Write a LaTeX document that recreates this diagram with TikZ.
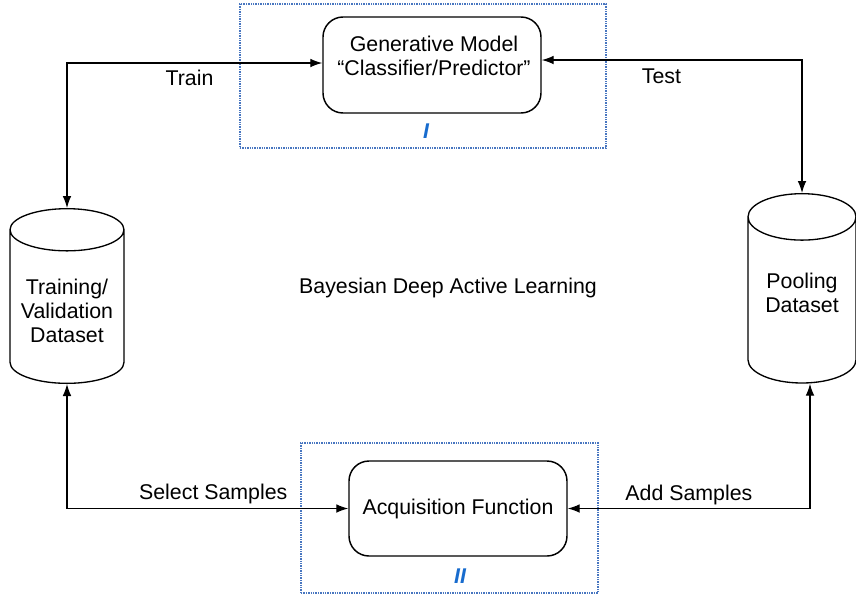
\documentclass[tikz,border=0pt]{standalone}
\usepackage{fontspec}
\setmainfont{Liberation Sans}
\usetikzlibrary{arrows.meta,shapes.geometric}
\definecolor{framecol}{RGB}{72,118,192}
\definecolor{tagcol}{RGB}{24,108,206}

\tikzset{
  txt/.style={font=\fontsize{16}{18}\selectfont, align=center, inner sep=1pt},
  box/.style={draw, line width=1.1pt, rounded corners=15pt, minimum width=163.5pt, minimum height=72pt},
  store/.style={draw, line width=1pt, cylinder, shape border rotate=90, inner ysep=0pt},
  frame/.style={draw=framecol, line width=1.8pt, dash pattern=on 1.1pt off 0.7pt},
  tag/.style={text=tagcol, font=\fontsize{16}{18}\selectfont\bfseries\itshape},
  link/.style={line width=0.9pt, {Latex[length=9pt,width=6.5pt]}-{Latex[length=9pt,width=6.5pt]}}
}

\begin{document}
\begin{tikzpicture}[x=0.75pt, y=-0.75pt]
  \useasboundingbox (0,0) rectangle (856,601);

  \node[frame, minimum width=274.5pt, minimum height=108pt] (frameI) at (423,76) {};
  \node[frame, minimum width=222.75pt, minimum height=112.5pt] (frameII) at (449.5,518) {};
  \node[tag] (tagI) at (426,131) {I};
  \node[tag] (tagII) at (460,576) {II};

  \node[box] (gen) at (432,65) {};
  \node[txt] (gentext) at (434,56) {Generative Model\\“Classifier/Predictor”};
  \node[box, minimum height=71.25pt, txt] (acq) at (458,508.5) {Acquisition Function};

  \node[store, inner xsep=42.75pt, minimum height=131pt, shape aspect=0.37, anchor=top] (trainset) at (67,208) {};
  \node[txt] (traintext) at (67,311) {Training/\\Validation\\Dataset};
  \node[store, inner xsep=40.5pt, minimum height=142pt, shape aspect=0.43, anchor=top] (pool) at (802,193) {};
  \node[txt] (pooltext) at (802,293) {Pooling\\Dataset};

  \node[txt] (title) at (448,288) {Bayesian Deep Active Learning};

  \draw[link] (trainset.top) |- ([yshift=1.5pt]gen.west) node[txt, pos=0.74, below=4pt] (train) {Train};
  \draw[link] (pool.top) |- ([yshift=3.75pt]gen.east) node[txt, pos=0.77, below=5.5pt] (test) {Test};
  \draw[link] (trainset.bottom) |- (acq.west) node[txt, pos=0.76, above=2pt] (select) {Select Samples};
  \draw[link] ([xshift=6pt]pool.bottom) |- (acq.east) node[txt, pos=0.75, above=1.5pt] (add) {Add Samples};
\end{tikzpicture}
\end{document}
